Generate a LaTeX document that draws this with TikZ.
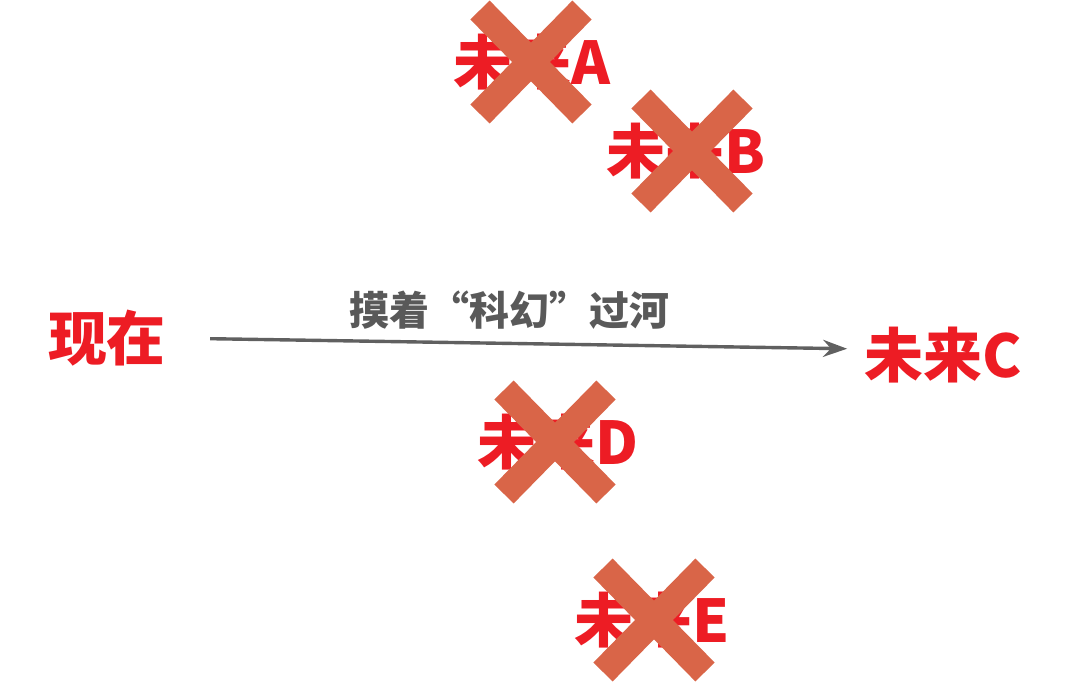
\documentclass[tikz,border=0pt]{standalone}
\usepackage{fontspec}
\newfontfamily\cjk{Noto Sans CJK SC}
\usepackage{tikz}
\usetikzlibrary{arrows.meta, calc}
\definecolor{futred}{RGB}{237,28,36}
\definecolor{crossorange}{RGB}{217,101,72}
\definecolor{flowgray}{RGB}{96,96,96}
\definecolor{labelgray}{RGB}{89,89,89}
\tikzstyle{timept} = [
  inner sep=0pt, text=futred, font=\cjk\bfseries\fontsize{59}{59}\selectfont
]
\tikzstyle{flow} = [-{Stealth[length=24pt, width=17pt]}, line width=3.4pt, flowgray]
\tikzstyle{crossline} = [line width=27pt, crossorange, line cap=butt]

\begin{document}
\begin{tikzpicture}[x=1pt, y=-1pt]

  \useasboundingbox (0,0) rectangle (1077,681);

  \node[timept] (now) at (107, 338) {现在};
  \node[timept] (futA) at (532, 62) {未来A};
  \node[timept] (futB) at (686, 151) {未来B};
  \node[timept] (futC) at (943, 355) {未来C};
  \node[timept] (futD) at (558, 442) {未来D};
  \node[timept] (futE) at (652, 620) {未来E};

  \node[font=\cjk\bfseries\fontsize{40}{40}\selectfont, text=labelgray] (ford) at (509, 310) {摸着“科幻”过河};

  \draw[flow, shorten <=44pt, shorten >=17pt] (now.east) -- ([yshift=6pt]futC.west);

  \foreach \n/\dx in {futA/-1, futB/6, futD/-3, futE/2} {
    \draw[crossline] ($(\n.center)+(\dx-51,-52)$) -- ($(\n.center)+(\dx+51,52)$);
    \draw[crossline] ($(\n.center)+(\dx+51,-52)$) -- ($(\n.center)+(\dx-51,52)$);
  }

\end{tikzpicture}
\end{document}
